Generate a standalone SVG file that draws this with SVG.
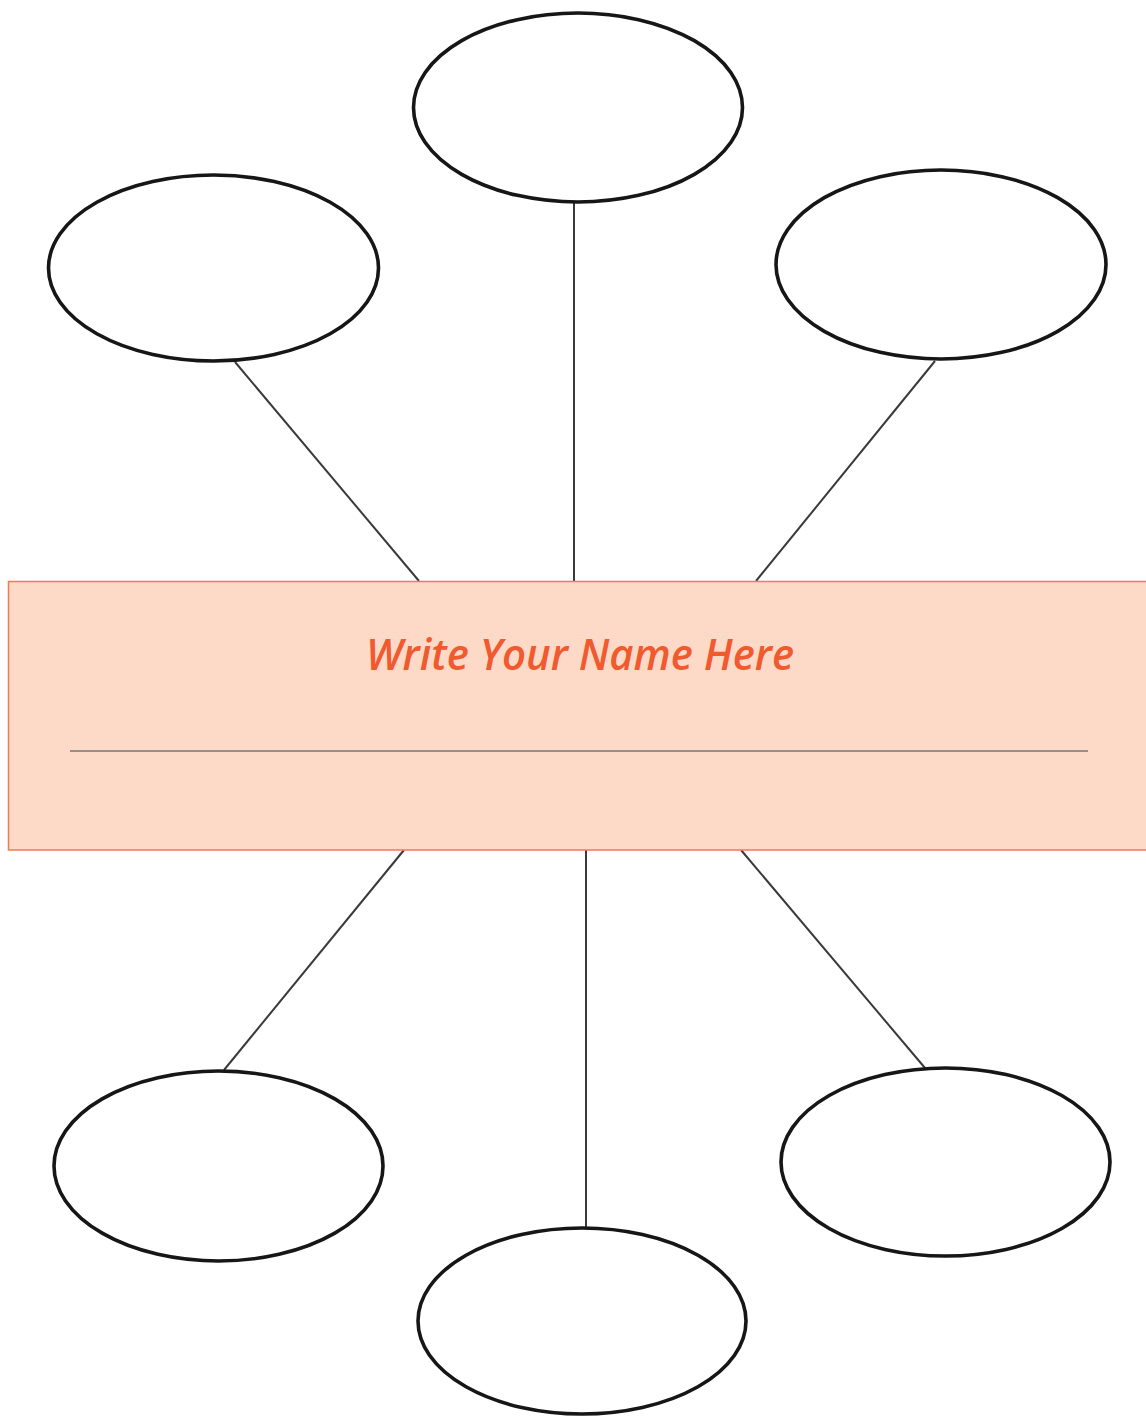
<svg xmlns="http://www.w3.org/2000/svg" width="1146" height="1417" viewBox="0 0 1146 1417">
<style>
.node ellipse{fill:#fff;stroke:#161616;stroke-width:3.6}
.conn line{stroke:#3a3a3a;stroke-width:2}
.title{font-family:"Open Sans","Liberation Sans",sans-serif;font-size:44px;font-style:italic;font-weight:600;fill:#f05a2e}
</style>
<rect width="1146" height="1417" fill="#fff"/>
<g id="connectors" class="conn">
<line x1="574" y1="203" x2="574" y2="582"/>
<line x1="235" y1="362" x2="419" y2="581"/>
<line x1="935" y1="361" x2="756" y2="581"/>
<line x1="404" y1="850" x2="224" y2="1070"/>
<line x1="586" y1="850" x2="586" y2="1228"/>
<line x1="741" y1="850" x2="925" y2="1068"/>
</g>
<g id="node-top" class="node"><ellipse cx="578" cy="107.5" rx="164.5" ry="94.5"/></g>
<g id="node-top-left" class="node"><ellipse cx="213.5" cy="268" rx="165" ry="93"/></g>
<g id="node-top-right" class="node"><ellipse cx="941" cy="264.5" rx="165" ry="94.5"/></g>
<g id="node-bottom-left" class="node"><ellipse cx="218.5" cy="1166" rx="164.5" ry="95"/></g>
<g id="node-bottom-right" class="node"><ellipse cx="945.5" cy="1162" rx="164.5" ry="94"/></g>
<g id="node-bottom" class="node"><ellipse cx="582" cy="1321" rx="164" ry="93"/></g>
<g id="name-box">
<rect x="8.5" y="581.5" width="1150" height="268.5" fill="#fdd9c7" stroke="#f47a55" stroke-width="1.5"/>
<text class="title" x="580" y="670" text-anchor="middle" textLength="428" lengthAdjust="spacingAndGlyphs">Write Your Name Here</text>
<line x1="70" y1="751" x2="1088" y2="751" stroke="#7a7470" stroke-width="1.5"/>
</g>
</svg>
